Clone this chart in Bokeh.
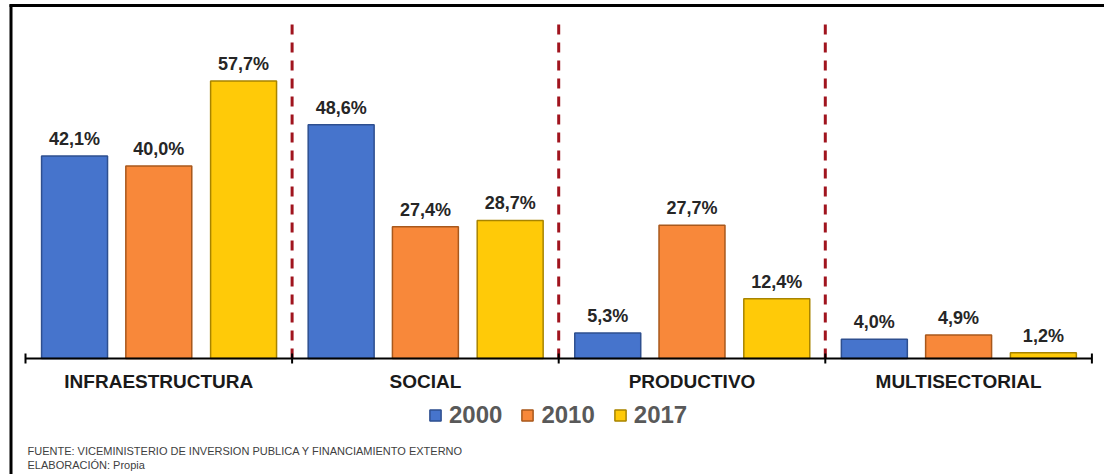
from bokeh.plotting import figure
from bokeh.models import Range1d, Legend, LegendItem, Label, ColumnDataSource
from bokeh.core.properties import value
from bokeh.embed import file_html
from bokeh.resources import INLINE

# ---- data ----
categories = ["INFRAESTRUCTURA", "SOCIAL", "PRODUCTIVO", "MULTISECTORIAL"]
years = ["2000", "2010", "2017"]
v2000 = [42.1, 48.6, 5.3, 4.0]
v2010 = [40.0, 27.4, 27.7, 4.9]
v2017 = [57.7, 28.7, 12.4, 1.2]
source_text = "FUENTE:  VICEMINISTERIO  DE INVERSION  PUBLICA Y FINANCIAMIENTO  EXTERNO"
elab_text = "ELABORACIÓN:  Propia"

# ---- styling / layout constants ----
series = [v2000, v2010, v2017]
fills = ["#4674CC", "#F8883A", "#FFCA08"]
edges = ["#2E4F8F", "#A8581C", "#A88400"]
offsets = [-0.316, 0.0, 0.318]
bar_w = 0.2474
FONT = "Liberation Sans"

W, H = 1104, 474
AX_LEFT_PX, CAT_PX = 25.0, 266.6      # axis start, width of one category (px)
BASE_PX, UNIT_PX = 358.0, 4.81        # baseline y (px), px per percentage point


def px2x(px):
    return (px - AX_LEFT_PX) / CAT_PX


def px2y(py):
    return (BASE_PX - py) / UNIT_PX


p = figure(width=W, height=H, output_backend="svg", toolbar_location=None,
           x_range=Range1d(px2x(0), px2x(W)), y_range=Range1d(px2y(H), px2y(0)),
           x_axis_location=None, y_axis_location=None,
           min_border_left=0, min_border_right=0,
           min_border_top=0, min_border_bottom=0)
p.xgrid.visible = False
p.ygrid.visible = False
p.outline_line_color = None
p.background_fill_color = "white"
p.border_fill_color = "white"

# outer frame (left + top edges visible)
p.segment(x0=[px2x(10.5), px2x(9)], y0=[px2y(H), px2y(5)],
          x1=[px2x(10.5), px2x(W)], y1=[px2y(4), px2y(5)],
          line_color="black", line_width=3)

n = len(categories)

# separators
sep_x = list(range(1, n))
p.segment(x0=sep_x, y0=[0] * len(sep_x), x1=sep_x, y1=[px2y(22)] * len(sep_x),
          line_color="#A0141E", line_width=3, line_dash="10 8")

# bars + value labels
renderers = []
for vals, fc, ec, off, yr in zip(series, fills, edges, offsets, years):
    xs = [i + 0.5 + off for i in range(n)]
    src = ColumnDataSource(dict(x=xs, top=vals,
                                lab=[f"{v:.1f}".replace(".", ",") + "%" for v in vals]))
    r = p.vbar(x="x", top="top", bottom=0, width=bar_w, source=src,
               fill_color=fc, line_color=ec, line_width=1.5)
    renderers.append((yr, r))
    p.text(x="x", y="top", text="lab", source=src, text_align="center",
           text_baseline="middle", y_offset=-17,
           text_font=value(FONT), text_font_style="bold",
           text_font_size="18px", text_color="#262626")

# category axis (line, boundary ticks, labels)
tick_len = 5 / UNIT_PX
p.segment(x0=[0], y0=[0], x1=[n], y1=[0], line_color="black", line_width=2)
ticks = list(range(n + 1))
p.segment(x0=ticks, y0=[-tick_len] * len(ticks), x1=ticks, y1=[tick_len] * len(ticks),
          line_color="black", line_width=2)
p.text(x=[i + 0.5 for i in range(n)], y=[0] * n, text=categories,
       text_align="center", text_baseline="middle", y_offset=23,
       text_font=value(FONT), text_font_style="bold", text_font_size="19px",
       text_color="#1a1a1a")

# legend
legend = Legend(items=[LegendItem(label=yr, renderers=[r]) for yr, r in renderers],
                orientation="horizontal", location=(428, 45),
                glyph_width=14, glyph_height=14, label_standoff=7, spacing=18,
                label_text_font=FONT, label_text_font_style="bold",
                label_text_font_size="24px", label_text_color="#595959",
                border_line_color=None, background_fill_alpha=0,
                padding=0, margin=0, label_height=24)
p.add_layout(legend)

# footer
for txt, yb in [(source_text, 24), (elab_text, 10)]:
    p.add_layout(Label(x=27, y=yb, x_units="screen", y_units="screen", text=txt,
                       text_font=FONT, text_font_size="11px", text_color="#404040",
                       text_baseline="middle"))

open("out.html", "w").write(file_html(p, INLINE))
